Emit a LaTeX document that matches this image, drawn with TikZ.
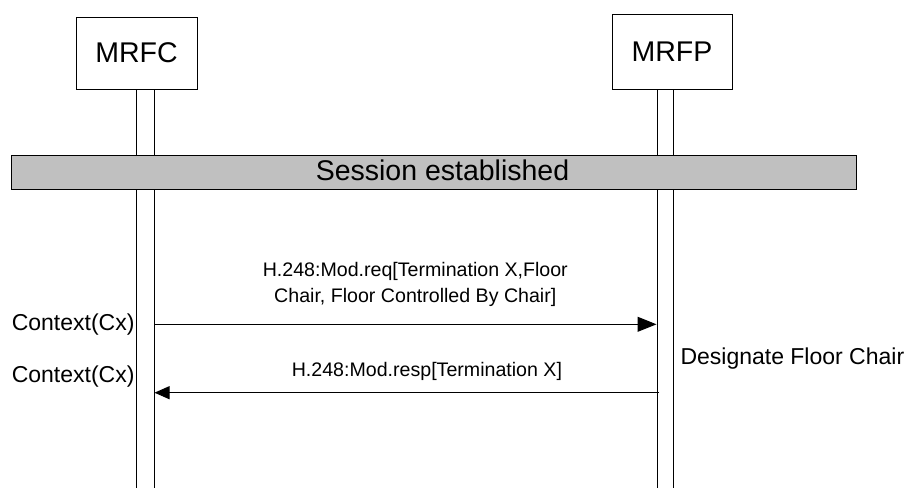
\documentclass[tikz,border=0pt]{standalone}
\usepackage{fontspec}
\setmainfont{Liberation Sans}
\usepackage{tikz}
\usepackage{xcolor}
\usetikzlibrary{arrows.meta,positioning}
\definecolor{barfill}{HTML}{C0C0C0}

\begin{document}
\begin{tikzpicture}[x=1pt,y=-1pt,line width=1pt,
    entity/.style={draw,fill=white,minimum width=121pt,minimum height=72pt,
                   inner sep=0pt,font=\fontsize{28.5}{34}\selectfont},
    banner/.style={draw,fill=barfill,minimum width=845pt,minimum height=34pt,inner sep=0pt},
    msg/.style={inner sep=0pt,align=center,font=\fontsize{19.6}{25.6}\selectfont},
    note/.style={inner sep=0pt,font=\fontsize{23}{28}\selectfont}]
    \useasboundingbox (0,0) rectangle (910,488);
    \node[entity] (mrfc) at (136.5,53) {MRFC};
    \node[entity,minimum width=120pt,minimum height=75pt] (mrfp) at (672,51.5) {MRFP};
    % lifelines
    \coordinate (fcL) at (136,488);
    \coordinate (fcR) at (154,488);
    \coordinate (fpL) at (657,488);
    \coordinate (fpR) at (673,488);
    \draw (mrfc.south -| fcL)--(fcL);
    \draw (mrfc.south -| fcR)--(fcR);
    \draw (mrfp.south -| fpL)--(fpL);
    \draw (mrfp.south -| fpR)--(fpR);
    \node[banner] (session) at (433.5,172) {};
    \node[font=\fontsize{28.5}{34}\selectfont,inner sep=0pt]
        at ([xshift=9pt,yshift=2pt]session.center) {Session established};
    % messages
    \coordinate (reqS) at (154,324.3);
    \coordinate (reqE) at (656.5,324.3);
    \coordinate (respS) at (659,392.7);
    \coordinate (respE) at (154.5,392.7);
    \draw[-{Triangle[length=19pt,width=15pt]}] (reqS)--
        node[msg,above=17.5pt,pos=.52] {H.248:Mod.req[Termination X,Floor\\Chair, Floor Controlled By Chair]} (reqE);
    \draw[-{Triangle[length=15pt,width=13pt]}] (respS)--
        node[msg,above=12pt,pos=.46] {H.248:Mod.resp[Termination X]} (respE);
    \node[note,anchor=base east] (ctx1) at (135,330) {Context(Cx)};
    \node[note,anchor=base east] (ctx2) at (135,382.7) {Context(Cx)};
    \node[note,anchor=base west] (chair) at (680,364) {Designate Floor Chair};
\end{tikzpicture}
\end{document}
